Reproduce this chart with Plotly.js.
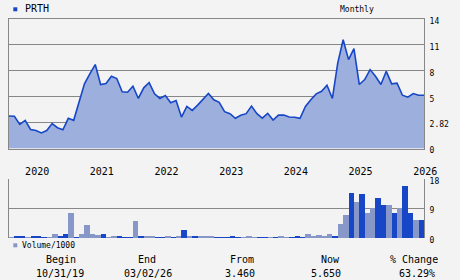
<!DOCTYPE html>
<html>
<head>
<meta charset="utf-8">
<script src="https://cdn.plot.ly/plotly-3.0.1.min.js"></script>
<style>html,body{margin:0;padding:0;background:#f3f3f3;}</style>
</head>
<body>
<div id="chart" style="width:460px;height:280px;"></div>
<script>
// Monthly closes (point dates), Oct 2019 .. Mar 2026
const months = [
  "2019-10","2019-11","2019-12",
  "2020-01","2020-02","2020-03","2020-04","2020-05","2020-06","2020-07","2020-08","2020-09","2020-10","2020-11","2020-12",
  "2021-01","2021-02","2021-03","2021-04","2021-05","2021-06","2021-07","2021-08","2021-09","2021-10","2021-11","2021-12",
  "2022-01","2022-02","2022-03","2022-04","2022-05","2022-06","2022-07","2022-08","2022-09","2022-10","2022-11","2022-12",
  "2023-01","2023-02","2023-03","2023-04","2023-05","2023-06","2023-07","2023-08","2023-09","2023-10","2023-11","2023-12",
  "2024-01","2024-02","2024-03","2024-04","2024-05","2024-06","2024-07","2024-08","2024-09","2024-10","2024-11","2024-12",
  "2025-01","2025-02","2025-03","2025-04","2025-05","2025-06","2025-07","2025-08","2025-09","2025-10","2025-11","2025-12",
  "2026-01","2026-02","2026-03"
];
const price = [
  3.37,3.35,2.63,3.01,2.07,1.96,1.70,1.96,2.71,2.26,
  2.04,3.18,3.01,4.57,6.49,7.64,8.72,6.41,6.52,7.37,
  7.10,5.57,5.52,6.21,4.85,6.03,6.64,5.33,4.85,5.14,
  4.49,4.68,3.29,4.18,3.85,4.29,4.77,5.37,4.74,4.52,
  3.74,3.57,3.18,3.43,3.57,4.21,3.57,3.20,3.60,3.04,
  3.45,3.45,3.29,3.27,3.18,4.18,4.74,5.33,5.63,6.33,
  4.85,8.91,11.60,9.29,10.56,6.41,6.98,8.14,7.37,6.41,
  7.94,6.49,6.56,5.17,4.96,5.37,5.17,5.17
];
// Volume/1000 per month (first 77 months)
const volume = [
  0.35,0.55,0.55,0.35,0.55,0.55,0.35,0.35,1.3,0.55,
  1.3,7.7,0.35,1.3,4.1,1.3,1.0,1.3,0.35,0.55,
  0.55,0.35,0.35,5.3,0.55,0.55,0.75,0.35,0.35,0.75,
  0.35,0.55,2.6,0.75,0.55,0.55,0.55,0.55,0.35,0.35,
  0.45,0.55,0.35,0.35,0.55,0.35,0.35,0.35,0.35,0.45,
  0.55,0.35,0.35,0.55,0.35,1.3,0.75,0.9,0.75,1.3,
  0.75,4.4,7.1,13.8,11.1,13.5,7.7,9.1,12.3,10.2,
  10.2,7.7,9.1,15.8,7.7,5.6,5.6
];
const yearTickMonths = ["2020-01","2021-01","2022-01","2023-01","2024-01","2025-01","2026-01"];
const yearTickText = ["2020","2021","2022","2023","2024","2025","2026"];
const priceTicks = [0, 2.82, 5, 8, 11, 14];
const priceTickText = ["0","2.82","5","8","11","14"];
const volTicks = [0, 9, 18];
const volTickText = ["0","9","18"];
const symbol = "PRTH";
const period = "Monthly";
const volLabel = "Volume/1000";
const statLabels = ["Begin","End","From","Now","% Change"];
const statValues = ["10/31/19","03/02/26","3.460","5.650","63.29%"];

// Chart's price scale: equally spaced gridlines with the labelled values
function toScale(v){
  for(let j=0;j<priceTicks.length-1;j++){
    if(v<=priceTicks[j+1]) return j+(v-priceTicks[j])/(priceTicks[j+1]-priceTicks[j]);
  }
  return priceTicks.length-1;
}

const DARK = "#1747c6", LIGHT = "#8798c8", FILL = "#9cafdd", GRID = "#878787";
const volColors = volume.map((v,k)=> (k>0 && price[k]<price[k-1]) ? DARK : LIGHT);

const L=9, R=424, T=19, B=238;
const X = px => (px-L)/(R-L);
const Y = py => (B-py)/(B-T);

const traces = [
  {
    type:"scatter", mode:"lines",
    x: months, y: price.map(toScale),
    fill:"tozeroy", fillcolor: FILL,
    line:{color:DARK, width:1.6},
    xaxis:"x", yaxis:"y", hoverinfo:"x+text", text: price.map(String)
  },
  {
    type:"bar",
    x: months.slice(0, volume.length), y: volume,
    offset: 0, width: 1,
    marker:{color: volColors, line:{width:0}},
    xaxis:"x", yaxis:"y2"
  }
];

const fontFam = "DejaVu Sans Mono, monospace";
const ann = (text, px, py, size, anchor) => ({
  text, x: X(px), y: Y(py), xref:"paper", yref:"paper",
  xanchor: anchor||"center", yanchor:"middle", showarrow:false,
  font:{family:fontFam, size:size, color:"#000"}
});

const annotations = [
  ann(symbol, 22.5, 9, 10, "left"),
  ann(period, 357, 9.5, 8),
  ann(volLabel, 20.2, 245, 8, "left")
];
const statX = [60.5, 146.5, 241.5, 330.5, 414];
const valX = [59.5, 147.7, 239.5, 326.3, 417.2];
statLabels.forEach((t,i)=>annotations.push(ann(t, statX[i], 259.5, 10)));
statValues.forEach((t,i)=>annotations.push(ann(t, valX[i], 273, 10)));

const layout = {
  width:460, height:280,
  margin:{l:L, r:460-R, t:T, b:280-B, pad:0},
  paper_bgcolor:"#f3f3f3", plot_bgcolor:"#f3f3f3",
  showlegend:false, bargap:0,
  font:{family:fontFam, size:10, color:"#000"},
  xaxis:{
    type:"category", range:[0, months.length-1], anchor:"y",
    tickmode:"array", tickvals: yearTickMonths, ticktext: yearTickText,
    ticks:"outside", ticklen:13, tickcolor:"rgba(0,0,0,0)",
    ticklabelshift: 12,
    tickfont:{family:fontFam, size:10, color:"#000"},
    showgrid:false, zeroline:false,
    showline:true, mirror:true, linecolor:GRID, linewidth:1,
    fixedrange:true
  },
  yaxis:{
    domain:[Y(148.5), 1], range:[0, priceTicks.length-1],
    tickmode:"array", tickvals: priceTicks.map((v,i)=>i), ticktext: priceTickText,
    side:"right", ticks:"outside", ticklen:3, tickcolor:"rgba(0,0,0,0)",
    ticklabelshift:2,
    tickfont:{family:fontFam, size:8, color:"#000"},
    showgrid:true, gridcolor:GRID, gridwidth:1, zeroline:false,
    showline:true, mirror:true, linecolor:GRID, linewidth:1,
    fixedrange:true
  },
  yaxis2:{
    domain:[0, Y(179.3)], range:[0, 18], anchor:"x",
    tickmode:"array", tickvals: volTicks, ticktext: volTickText,
    side:"right", ticks:"outside", ticklen:3, tickcolor:"rgba(0,0,0,0)",
    ticklabelshift:2,
    tickfont:{family:fontFam, size:8, color:"#000"},
    showgrid:true, gridcolor:GRID, gridwidth:1, zeroline:false,
    showline:true, mirror:true, linecolor:GRID, linewidth:1,
    fixedrange:true
  },
  shapes:[
    {type:"rect", xref:"paper", yref:"paper", x0:X(13.3), x1:X(17.3), y0:Y(11.3), y1:Y(7.3),
     fillcolor:DARK, line:{width:0}},
    {type:"rect", xref:"paper", yref:"paper", x0:X(13.3), x1:X(17.3), y0:Y(247.3), y1:Y(243.3),
     fillcolor:LIGHT, line:{width:0}}
  ],
  annotations
};

Plotly.newPlot("chart", traces, layout, {staticPlot:true, displayModeBar:false});
</script>
</body>
</html>
